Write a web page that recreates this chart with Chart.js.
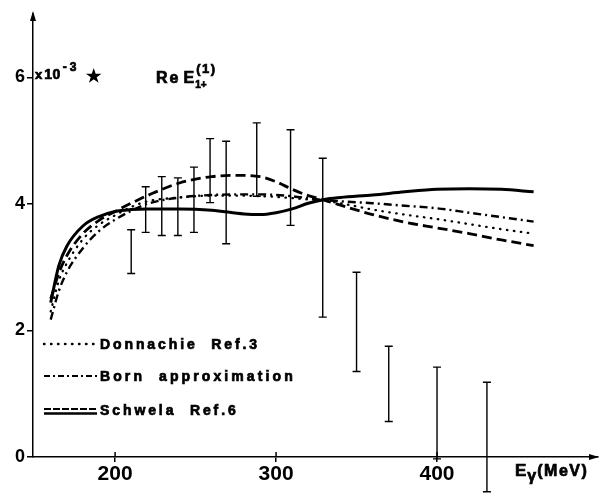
<!DOCTYPE html>
<html>
<head>
<meta charset="utf-8">
<script src="https://cdn.jsdelivr.net/npm/chart.js@4.4.1/dist/chart.umd.min.js"></script>
<style>
  html, body { margin: 0; padding: 0; background: #fff; }
  #wrap { width: 599px; height: 493px; position: relative; }
</style>
</head>
<body>
<div id="wrap"><canvas id="ampChart"></canvas></div>
<script>
// photon energy (MeV) where the theory curves are sampled
const energy = [160, 165, 170, 180, 190, 200, 210, 220, 240, 260, 280, 290, 300, 310, 320, 330, 340, 360, 380, 400, 420, 440, 460];
const donnachie = [2.30, 2.78, 3.06, 3.44, 3.67, 3.82, 3.95, 4.04, 4.10, 4.13, 4.13, 4.12, 4.11, 4.09, 4.07, 4.05, 4.01, 3.91, 3.83, 3.76, 3.68, 3.60, 3.53];
const born = [2.17, 2.62, 2.92, 3.30, 3.57, 3.75, 3.89, 4.00, 4.10, 4.14, 4.15, 4.15, 4.14, 4.12, 4.09, 4.06, 4.04, 4.01, 3.97, 3.93, 3.86, 3.79, 3.72];
const schwelaDashed = [2.50, 2.90, 3.18, 3.53, 3.74, 3.88, 4.01, 4.13, 4.33, 4.43, 4.45, 4.43, 4.35, 4.23, 4.13, 4.06, 3.98, 3.83, 3.71, 3.62, 3.53, 3.43, 3.34];
const schwelaSolid = [2.44, 3.02, 3.33, 3.65, 3.80, 3.88, 3.91, 3.92, 3.92, 3.90, 3.84, 3.83, 3.86, 3.92, 4.01, 4.07, 4.10, 4.14, 4.19, 4.23, 4.24, 4.23, 4.19];

// measured points: energy and the two ends of each error bar
const expEnergy = [210, 219, 229, 239, 249, 259, 269, 288, 309, 329, 350, 370, 400, 431];
const expLow = [2.90, 3.55, 3.50, 3.50, 3.55, 4.02, 3.37, 4.12, 3.66, 2.21, 1.35, 0.56, -0.03, -0.55];
const expHigh = [3.59, 4.27, 4.43, 4.41, 4.58, 5.03, 4.99, 5.28, 5.17, 4.72, 2.92, 1.75, 1.42, 1.18];

const xTicks = [200, 300, 400];
const yTicks = [0, 2, 4, 6];

const BOLD = "'Liberation Sans', Arial, sans-serif";
const NARROW = "'Liberation Sans Narrow', 'Liberation Sans', Arial, sans-serif";

function pts(ys) {
    return energy.map((e, i) => ({ x: e, y: ys[i] }));
}

function curve(label, ys, width, dash, cap) {
    return {
        label: label,
        data: pts(ys),
        borderColor: '#000',
        borderWidth: width,
        borderDash: dash,
        borderCapStyle: cap || 'butt',
        pointRadius: 0,
        fill: false,
        cubicInterpolationMode: 'monotone'
    };
}

// heavy text with letter spacing, returns end x
function txt(ctx, s, x, y, size, spacing) {
    ctx.font = 'bold ' + size + 'px ' + BOLD;
    ctx.letterSpacing = (spacing || 0) + 'px';
    ctx.lineWidth = 0.7;
    ctx.setLineDash([]);
    ctx.fillText(s, x, y);
    ctx.strokeText(s, x, y);
    return x + ctx.measureText(s).width;
}

// axis arrows, inner tick halves, error bars, labels and the key
const overlay = {
    id: 'overlay',
    afterDraw(chart) {
        const ctx = chart.ctx;
        const xs = chart.scales.x, ys = chart.scales.y;
        const x0 = xs.left, y0 = ys.bottom;
        ctx.save();
        ctx.strokeStyle = '#000';
        ctx.fillStyle = '#000';
        ctx.lineWidth = 1.5;

        xTicks.forEach(v => {
            const px = xs.getPixelForValue(v);
            ctx.beginPath(); ctx.moveTo(px, y0 - 5); ctx.lineTo(px, y0); ctx.stroke();
        });

        // arrow heads
        ctx.beginPath();
        ctx.moveTo(x0, ys.top - 3); ctx.lineTo(x0 - 3, ys.top + 7); ctx.lineTo(x0 + 3, ys.top + 7);
        ctx.closePath(); ctx.fill();
        ctx.beginPath();
        ctx.moveTo(xs.right + 1, y0); ctx.lineTo(xs.right - 9, y0 - 3); ctx.lineTo(xs.right - 9, y0 + 3);
        ctx.closePath(); ctx.fill();

        // error bars
        ctx.lineWidth = 1.4;
        expEnergy.forEach((e, i) => {
            const px = xs.getPixelForValue(e);
            const lo = ys.getPixelForValue(expLow[i]);
            const hi = ys.getPixelForValue(expHigh[i]);
            ctx.beginPath();
            ctx.moveTo(px, lo); ctx.lineTo(px, hi);
            ctx.moveTo(px - 4, lo); ctx.lineTo(px + 4, lo);
            ctx.moveTo(px - 4, hi); ctx.lineTo(px + 4, hi);
            ctx.stroke();
        });

        // scale factor and amplitude name
        ctx.textBaseline = 'alphabetic';
        ctx.textAlign = 'left';
        let x = txt(ctx, 'x', 35, 79, 13, 0);
        x = txt(ctx, '10', x + 2, 79, 14, 0.5);
        x = txt(ctx, '-3', x + 2, 71, 12, 3);
        txt(ctx, '\u2605', 87, 81, 15, 0);

        x = txt(ctx, 'Re', 156, 83, 16, 2);
        x = txt(ctx, 'E', x + 3, 83, 16, 0);
        txt(ctx, '1+', x + 1, 88, 10, 0);
        txt(ctx, '(1)', x + 2, 73, 13, 1.5);

        // x axis title
        x = txt(ctx, 'E', 515, 476, 17, 0);
        x = txt(ctx, '\u03b3', x + 1, 481, 16, 0);
        txt(ctx, '(MeV)', x + 1, 476, 16, 1.5);

        // key
        const kx0 = 44, kx1 = 97;
        function keyLine(y, dash, w, cap) {
            ctx.setLineDash(dash);
            ctx.lineWidth = w;
            ctx.lineCap = cap || 'butt';
            ctx.beginPath(); ctx.moveTo(kx0, y); ctx.lineTo(kx1, y); ctx.stroke();
        }
        keyLine(344, [0.5, 6.5], 2.4, 'round');
        keyLine(376, [6, 3, 2, 3], 2.2);
        keyLine(409, [7, 2], 2.2);
        keyLine(413.5, [], 2.6);
        ctx.lineCap = 'butt';

        txt(ctx, 'Donnachie  Ref.3', 100, 349, 14, 2.9);
        txt(ctx, 'Born  approximation', 100, 381, 14, 3.1);
        txt(ctx, 'Schwela  Ref.6', 100, 415, 14, 2.9);
        ctx.restore();
    }
};

new Chart(document.getElementById('ampChart'), {
    type: 'line',
    data: {
        datasets: [
            curve('Donnachie Ref.3', donnachie, 2.3, [0.5, 6.5], 'round'),
            curve('Born approximation', born, 2.4, [8, 4, 2, 4]),
            curve('Schwela Ref.6', schwelaDashed, 2.8, [10, 5]),
            curve('Schwela Ref.6 (solid)', schwelaSolid, 3)
        ]
    },
    options: {
        responsive: true,
        maintainAspectRatio: false,
        animation: false,
        layout: { padding: { top: 14, right: 1, left: 0, bottom: 0 } },
        plugins: {
            legend: { display: false },
            tooltip: { enabled: false }
        },
        scales: {
            x: {
                type: 'linear',
                min: 149,
                max: 500,
                afterBuildTicks: s => { s.ticks = xTicks.map(v => ({ value: v })); },
                afterFit: s => { s.height = 36; },
                border: { display: true, color: '#000', width: 1.5 },
                grid: { drawOnChartArea: false, drawTicks: true, tickLength: 5, color: '#000', lineWidth: 1.5 },
                ticks: { color: '#000', padding: 0, font: { family: NARROW, size: 21, weight: 'bold' } }
            },
            y: {
                type: 'linear',
                min: 0,
                max: 7,
                afterBuildTicks: s => { s.ticks = yTicks.map(v => ({ value: v })); },
                afterFit: s => { s.width = 33; },
                border: { display: true, color: '#000', width: 1.5 },
                grid: { drawOnChartArea: false, drawTicks: true, tickLength: 6, color: '#000', lineWidth: 1.5 },
                ticks: { color: '#000', padding: 2, font: { family: NARROW, size: 18, weight: 'bold' } }
            }
        }
    },
    plugins: [overlay]
});
</script>
</body>
</html>
